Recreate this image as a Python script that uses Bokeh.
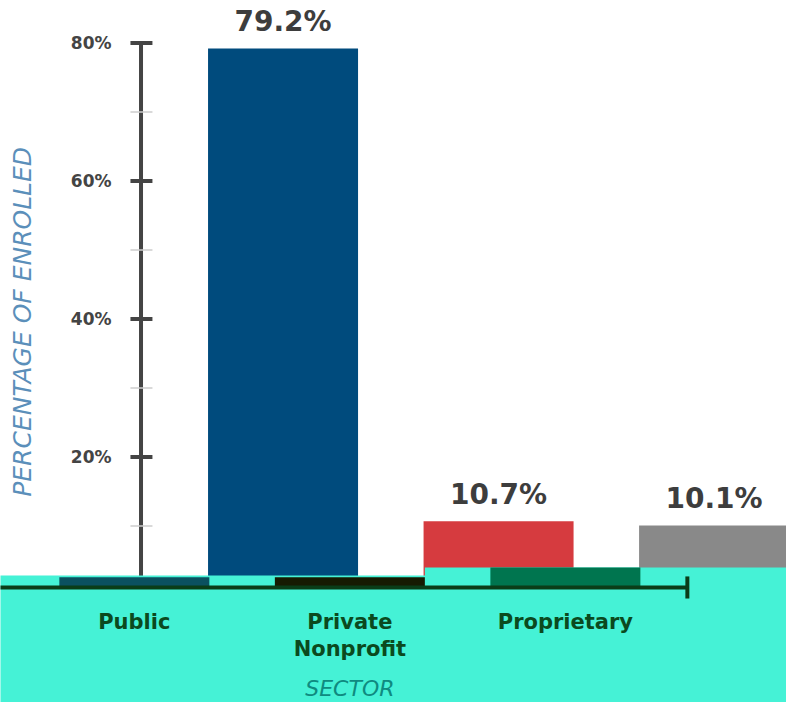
from bokeh.plotting import figure
from bokeh.models import Range1d
from bokeh.core.properties import value
from bokeh.embed import file_html
from bokeh.resources import INLINE

# ---- data ----
categories = ["Public", "Private\nNonprofit", "Proprietary"]
shares = [79.2, 10.7, 10.1]
share_labels = ["79.2%", "10.7%", "10.1%"]
bar_colors = ["#004b7d", "#d63b3f", "#898989"]
overlay_tops = [2.6, 2.6, 4.0]
overlay_colors = ["#0b5160", "#161b02", "#00754f"]
major_ticks = [20, 40, 60, 80]
major_labels = ["20%", "40%", "60%", "80%"]
minor_ticks = [10, 30, 50, 70]

# ---- layout constants (data units) ----
BAR_W = 0.696
SHIFT = 0.69          # offset of the overlaid sector axis
AXIS_X = 0.341
TICK_L, TICK_R = 0.292, 0.394
BASE = 1.1            # overlay baseline
X0, X1 = -0.311, 3.336
Y0, Y1 = -15.57, 86.17

xs = [i + 1 for i in range(len(shares))]
oxs = [x - SHIFT for x in xs]

p = figure(width=786, height=702, output_backend="svg", toolbar_location=None,
           x_range=Range1d(X0, X1), y_range=Range1d(Y0, Y1),
           x_axis_type=None, y_axis_type=None, min_border=0,
           background_fill_color="white", border_fill_color="white")
p.grid.visible = False
p.outline_line_color = None

# main bars
p.vbar(x=xs, top=shares, bottom=0, width=BAR_W, color=bar_colors, line_color=None)

# y axis
p.segment(x0=[AXIS_X], y0=[0], x1=[AXIS_X], y1=[max(major_ticks)], line_color="#444444", line_width=4)
p.segment(x0=[TICK_L]*4, y0=minor_ticks, x1=[TICK_R]*4, y1=minor_ticks, line_color="#cccccc", line_width=1.5)
p.segment(x0=[TICK_L]*4, y0=major_ticks, x1=[TICK_R]*4, y1=major_ticks, line_color="#444444", line_width=4)
p.text(x=[0.204]*4, y=major_ticks, text=major_labels, text_align="right", text_baseline="middle",
       text_font=value("DejaVu Sans"), text_font_style="bold", text_font_size="17px", text_color="#444444")

# value labels
p.text(x=xs, y=shares, text=share_labels, text_align="center", text_baseline="alphabetic", y_offset=-27,
       text_font=value("DejaVu Sans"), text_font_style="bold", text_font_size="28px", text_color="#3d3d3d")

# turquoise overlay
step_x = oxs[1] + BAR_W / 2
p.quad(left=[X0 - 0.1, step_x], right=[X1 + 0.1, X1 + 0.1], bottom=[Y0 - 5, Y0 - 5],
       top=[2.84, overlay_tops[2]], color="#45f2d6", line_color=None)
p.vbar(x=oxs, top=overlay_tops, bottom=BASE, width=BAR_W, color=overlay_colors, line_color=None)
end_x = oxs[2] + 0.566
p.segment(x0=[X0 - 0.1], y0=[BASE], x1=[end_x], y1=[BASE], line_color="#0a3d18", line_width=4)
p.segment(x0=[end_x], y0=[2.7], x1=[end_x], y1=[-0.5], line_color="#0a3d18", line_width=4)

# category labels
p.text(x=oxs, y=[-2.1]*3, text=categories, text_align="center", text_baseline="top",
       text_line_height=1.15,
       text_font=value("DejaVu Sans"), text_font_style="bold", text_font_size="21px", text_color="#0b4a1e")
p.text(x=[oxs[1]], y=[-13.5], text=["SECTOR"], text_align="center", text_baseline="middle",
       text_font=value("DejaVu Sans"), text_font_style="italic", text_font_size="22px", text_color="#0f8a80")

# y axis title
p.text(x=[-0.209], y=[39.6], text=["PERCENTAGE OF ENROLLED"], angle=1.5708, text_align="center",
       text_baseline="middle", text_font=value("DejaVu Sans"), text_font_style="italic",
       text_font_size="25px", text_color="#5b8fba")

open("out.html", "w").write(file_html(p, INLINE))
